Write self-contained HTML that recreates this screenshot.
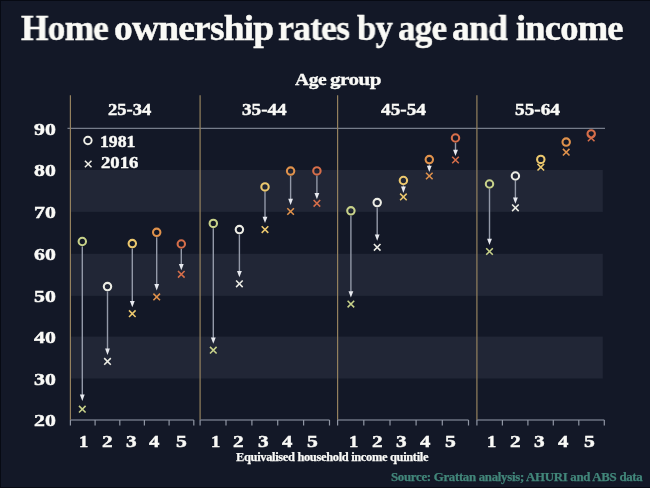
<!DOCTYPE html>
<html><head><meta charset="utf-8"><style>
html,body{margin:0;padding:0;width:650px;height:488px;overflow:hidden;background:#131827;}
#c{position:relative;width:650px;height:488px;background:#131827;}
svg{position:absolute;left:0;top:0;}
.t{position:absolute;white-space:nowrap;font-family:"Liberation Serif",serif;font-weight:bold;transform-origin:0 0;will-change:transform;}
</style></head><body><div id="c">
<svg width="650" height="488" viewBox="0 0 650 488">
<rect x="0" y="0" width="650" height="1" fill="#070a13"/><rect x="0" y="0" width="1" height="488" fill="#070a13"/><rect x="0" y="487" width="650" height="1" fill="#080b14"/>
<rect x="70.4" y="170.0" width="532.4" height="41.9" fill="#212636"/>
<rect x="70.4" y="253.8" width="532.4" height="42.1" fill="#212636"/>
<rect x="70.4" y="336.6" width="532.4" height="41.9" fill="#212636"/>
<line x1="67.5" y1="128.4" x2="605" y2="128.4" stroke="#767c8a" stroke-width="1.3"/>
<line x1="70.4" y1="95.3" x2="70.4" y2="420" stroke="#94815e" stroke-width="1.2"/>
<line x1="200.1" y1="95.3" x2="200.1" y2="420" stroke="#94815e" stroke-width="1.2"/>
<line x1="337.6" y1="95.3" x2="337.6" y2="420" stroke="#94815e" stroke-width="1.2"/>
<line x1="476.9" y1="95.3" x2="476.9" y2="420" stroke="#94815e" stroke-width="1.2"/>
<line x1="70.4" y1="420" x2="193.8" y2="420" stroke="#6c7282" stroke-width="1.4"/>
<line x1="70.4" y1="420" x2="70.4" y2="425.5" stroke="#9096a4" stroke-width="1.2"/>
<line x1="95.1" y1="420" x2="95.1" y2="425.5" stroke="#9096a4" stroke-width="1.2"/>
<line x1="119.8" y1="420" x2="119.8" y2="425.5" stroke="#9096a4" stroke-width="1.2"/>
<line x1="144.4" y1="420" x2="144.4" y2="425.5" stroke="#9096a4" stroke-width="1.2"/>
<line x1="169.1" y1="420" x2="169.1" y2="425.5" stroke="#9096a4" stroke-width="1.2"/>
<line x1="193.8" y1="420" x2="193.8" y2="425.5" stroke="#9096a4" stroke-width="1.2"/>
<line x1="200.1" y1="420" x2="329.5" y2="420" stroke="#6c7282" stroke-width="1.4"/>
<line x1="200.1" y1="420" x2="200.1" y2="425.5" stroke="#9096a4" stroke-width="1.2"/>
<line x1="226.0" y1="420" x2="226.0" y2="425.5" stroke="#9096a4" stroke-width="1.2"/>
<line x1="251.9" y1="420" x2="251.9" y2="425.5" stroke="#9096a4" stroke-width="1.2"/>
<line x1="277.7" y1="420" x2="277.7" y2="425.5" stroke="#9096a4" stroke-width="1.2"/>
<line x1="303.6" y1="420" x2="303.6" y2="425.5" stroke="#9096a4" stroke-width="1.2"/>
<line x1="329.5" y1="420" x2="329.5" y2="425.5" stroke="#9096a4" stroke-width="1.2"/>
<line x1="337.6" y1="420" x2="468.5" y2="420" stroke="#6c7282" stroke-width="1.4"/>
<line x1="337.6" y1="420" x2="337.6" y2="425.5" stroke="#9096a4" stroke-width="1.2"/>
<line x1="363.8" y1="420" x2="363.8" y2="425.5" stroke="#9096a4" stroke-width="1.2"/>
<line x1="390.0" y1="420" x2="390.0" y2="425.5" stroke="#9096a4" stroke-width="1.2"/>
<line x1="416.1" y1="420" x2="416.1" y2="425.5" stroke="#9096a4" stroke-width="1.2"/>
<line x1="442.3" y1="420" x2="442.3" y2="425.5" stroke="#9096a4" stroke-width="1.2"/>
<line x1="468.5" y1="420" x2="468.5" y2="425.5" stroke="#9096a4" stroke-width="1.2"/>
<line x1="476.9" y1="420" x2="604.3" y2="420" stroke="#6c7282" stroke-width="1.4"/>
<line x1="476.9" y1="420" x2="476.9" y2="425.5" stroke="#9096a4" stroke-width="1.2"/>
<line x1="502.4" y1="420" x2="502.4" y2="425.5" stroke="#9096a4" stroke-width="1.2"/>
<line x1="527.9" y1="420" x2="527.9" y2="425.5" stroke="#9096a4" stroke-width="1.2"/>
<line x1="553.3" y1="420" x2="553.3" y2="425.5" stroke="#9096a4" stroke-width="1.2"/>
<line x1="578.8" y1="420" x2="578.8" y2="425.5" stroke="#9096a4" stroke-width="1.2"/>
<line x1="604.3" y1="420" x2="604.3" y2="425.5" stroke="#9096a4" stroke-width="1.2"/>
<line x1="82.3" y1="246.4" x2="82.3" y2="395.1" stroke="#9399a8" stroke-width="1.4"/>
<path d="M79.90,394.60 L84.70,394.60 L82.3,400.9 Z" fill="#e8eaf0"/>
<circle cx="82.3" cy="241.5" r="3.7" fill="none" stroke="#c8d28a" stroke-width="2.1"/>
<path d="M79.0,405.9 L85.6,412.5 M79.0,412.5 L85.6,405.9" stroke="#c8d28a" stroke-width="1.55"/>
<line x1="107.5" y1="291.5" x2="107.5" y2="349.1" stroke="#9399a8" stroke-width="1.4"/>
<path d="M105.10,348.60 L109.90,348.60 L107.5,354.9 Z" fill="#e8eaf0"/>
<circle cx="107.5" cy="286.6" r="3.7" fill="none" stroke="#ecece4" stroke-width="2.1"/>
<path d="M104.2,358.1 L110.8,364.7 M104.2,364.7 L110.8,358.1" stroke="#ecece4" stroke-width="1.55"/>
<line x1="132.3" y1="248.5" x2="132.3" y2="301.4" stroke="#9399a8" stroke-width="1.4"/>
<path d="M129.90,300.90 L134.70,300.90 L132.3,307.2 Z" fill="#e8eaf0"/>
<circle cx="132.3" cy="243.6" r="3.7" fill="none" stroke="#ecc86e" stroke-width="2.1"/>
<path d="M129.0,310.4 L135.6,317.0 M129.0,317.0 L135.6,310.4" stroke="#ecc86e" stroke-width="1.55"/>
<line x1="156.7" y1="237.2" x2="156.7" y2="284.6" stroke="#9399a8" stroke-width="1.4"/>
<path d="M154.30,284.10 L159.10,284.10 L156.7,290.4 Z" fill="#e8eaf0"/>
<circle cx="156.7" cy="232.3" r="3.7" fill="none" stroke="#e0924c" stroke-width="2.1"/>
<path d="M153.4,293.6 L160.0,300.2 M153.4,300.2 L160.0,293.6" stroke="#e0924c" stroke-width="1.55"/>
<line x1="181.3" y1="248.9" x2="181.3" y2="264.5" stroke="#9399a8" stroke-width="1.4"/>
<path d="M178.90,264.00 L183.70,264.00 L181.3,270.3 Z" fill="#e8eaf0"/>
<circle cx="181.3" cy="244.0" r="3.7" fill="none" stroke="#d66e4a" stroke-width="2.1"/>
<path d="M178.0,271.0 L184.6,277.6 M178.0,277.6 L184.6,271.0" stroke="#d66e4a" stroke-width="1.55"/>
<line x1="213.3" y1="228.3" x2="213.3" y2="337.9" stroke="#9399a8" stroke-width="1.4"/>
<path d="M210.90,337.40 L215.70,337.40 L213.3,343.7 Z" fill="#e8eaf0"/>
<circle cx="213.3" cy="223.4" r="3.7" fill="none" stroke="#c8d28a" stroke-width="2.1"/>
<path d="M210.0,346.9 L216.6,353.5 M210.0,353.5 L216.6,346.9" stroke="#c8d28a" stroke-width="1.55"/>
<line x1="239.4" y1="234.5" x2="239.4" y2="271.5" stroke="#9399a8" stroke-width="1.4"/>
<path d="M237.00,271.00 L241.80,271.00 L239.4,277.3 Z" fill="#e8eaf0"/>
<circle cx="239.4" cy="229.6" r="3.7" fill="none" stroke="#ecece4" stroke-width="2.1"/>
<path d="M236.1,280.5 L242.7,287.1 M236.1,287.1 L242.7,280.5" stroke="#ecece4" stroke-width="1.55"/>
<line x1="265.0" y1="191.8" x2="265.0" y2="217.3" stroke="#9399a8" stroke-width="1.4"/>
<path d="M262.60,216.80 L267.40,216.80 L265.0,223.1 Z" fill="#e8eaf0"/>
<circle cx="265.0" cy="186.9" r="3.7" fill="none" stroke="#ecc86e" stroke-width="2.1"/>
<path d="M261.7,226.3 L268.3,232.9 M261.7,232.9 L268.3,226.3" stroke="#ecc86e" stroke-width="1.55"/>
<line x1="290.6" y1="176.0" x2="290.6" y2="199.2" stroke="#9399a8" stroke-width="1.4"/>
<path d="M288.20,198.70 L293.00,198.70 L290.6,205.0 Z" fill="#e8eaf0"/>
<circle cx="290.6" cy="171.1" r="3.7" fill="none" stroke="#e0924c" stroke-width="2.1"/>
<path d="M287.3,208.2 L293.9,214.8 M287.3,214.8 L293.9,208.2" stroke="#e0924c" stroke-width="1.55"/>
<line x1="316.9" y1="175.8" x2="316.9" y2="193.5" stroke="#9399a8" stroke-width="1.4"/>
<path d="M314.50,193.00 L319.30,193.00 L316.9,199.3 Z" fill="#e8eaf0"/>
<circle cx="316.9" cy="170.9" r="3.7" fill="none" stroke="#d66e4a" stroke-width="2.1"/>
<path d="M313.6,200.0 L320.2,206.6 M313.6,206.6 L320.2,200.0" stroke="#d66e4a" stroke-width="1.55"/>
<line x1="350.9" y1="215.7" x2="350.9" y2="291.8" stroke="#9399a8" stroke-width="1.4"/>
<path d="M348.50,291.30 L353.30,291.30 L350.9,297.6 Z" fill="#e8eaf0"/>
<circle cx="350.9" cy="210.8" r="3.7" fill="none" stroke="#c8d28a" stroke-width="2.1"/>
<path d="M347.6,300.8 L354.2,307.4 M347.6,307.4 L354.2,300.8" stroke="#c8d28a" stroke-width="1.55"/>
<line x1="377.2" y1="207.5" x2="377.2" y2="235.0" stroke="#9399a8" stroke-width="1.4"/>
<path d="M374.80,234.50 L379.60,234.50 L377.2,240.8 Z" fill="#e8eaf0"/>
<circle cx="377.2" cy="202.6" r="3.7" fill="none" stroke="#ecece4" stroke-width="2.1"/>
<path d="M373.9,244.0 L380.5,250.6 M373.9,250.6 L380.5,244.0" stroke="#ecece4" stroke-width="1.55"/>
<line x1="403.4" y1="185.4" x2="403.4" y2="187.1" stroke="#9399a8" stroke-width="1.4"/>
<path d="M401.00,186.60 L405.80,186.60 L403.4,192.9 Z" fill="#e8eaf0"/>
<circle cx="403.4" cy="180.5" r="3.7" fill="none" stroke="#ecc86e" stroke-width="2.1"/>
<path d="M400.1,193.6 L406.7,200.2 M400.1,200.2 L406.7,193.6" stroke="#ecc86e" stroke-width="1.55"/>
<line x1="429.3" y1="164.5" x2="429.3" y2="166.2" stroke="#9399a8" stroke-width="1.4"/>
<path d="M426.90,165.70 L431.70,165.70 L429.3,172.0 Z" fill="#e8eaf0"/>
<circle cx="429.3" cy="159.6" r="3.7" fill="none" stroke="#e0924c" stroke-width="2.1"/>
<path d="M426.0,172.7 L432.6,179.3 M426.0,179.3 L432.6,172.7" stroke="#e0924c" stroke-width="1.55"/>
<line x1="455.5" y1="142.9" x2="455.5" y2="150.2" stroke="#9399a8" stroke-width="1.4"/>
<path d="M453.10,149.70 L457.90,149.70 L455.5,156.0 Z" fill="#e8eaf0"/>
<circle cx="455.5" cy="138.0" r="3.7" fill="none" stroke="#d66e4a" stroke-width="2.1"/>
<path d="M452.2,156.7 L458.8,163.3 M452.2,163.3 L458.8,156.7" stroke="#d66e4a" stroke-width="1.55"/>
<line x1="489.5" y1="188.9" x2="489.5" y2="239.2" stroke="#9399a8" stroke-width="1.4"/>
<path d="M487.10,238.70 L491.90,238.70 L489.5,245.0 Z" fill="#e8eaf0"/>
<circle cx="489.5" cy="184.0" r="3.7" fill="none" stroke="#c8d28a" stroke-width="2.1"/>
<path d="M486.2,248.2 L492.8,254.8 M486.2,254.8 L492.8,248.2" stroke="#c8d28a" stroke-width="1.55"/>
<line x1="515.4" y1="180.9" x2="515.4" y2="198.0" stroke="#9399a8" stroke-width="1.4"/>
<path d="M513.00,197.50 L517.80,197.50 L515.4,203.8 Z" fill="#e8eaf0"/>
<circle cx="515.4" cy="176.0" r="3.7" fill="none" stroke="#ecece4" stroke-width="2.1"/>
<path d="M512.1,204.5 L518.7,211.1 M512.1,211.1 L518.7,204.5" stroke="#ecece4" stroke-width="1.55"/>
<circle cx="540.8" cy="159.4" r="3.7" fill="none" stroke="#ecc86e" stroke-width="2.1"/>
<path d="M537.5,163.9 L544.1,170.5 M537.5,170.5 L544.1,163.9" stroke="#ecc86e" stroke-width="1.55"/>
<circle cx="566.2" cy="142.1" r="3.7" fill="none" stroke="#e0924c" stroke-width="2.1"/>
<path d="M562.9,148.9 L569.5,155.5 M562.9,155.5 L569.5,148.9" stroke="#e0924c" stroke-width="1.55"/>
<circle cx="591.2" cy="133.9" r="3.7" fill="none" stroke="#d66e4a" stroke-width="2.1"/>
<path d="M587.9,134.7 L594.5,141.3 M587.9,141.3 L594.5,134.7" stroke="#d66e4a" stroke-width="1.55"/>
<circle cx="87.9" cy="140.5" r="3.75" fill="none" stroke="#eeeee6" stroke-width="1.9"/>
<path d="M84.9,160.7 L91.5,167.3 M84.9,167.3 L91.5,160.7" stroke="#eeeee6" stroke-width="1.5"/>
</svg>
<div class="t" style="left:20.70px;top:9.85px;font-size:36px;line-height:36px;color:#fafaf6;-webkit-text-stroke:0.45px #fafaf6;letter-spacing:-0.8px;transform:scaleX(0.9809)">Home</div>
<div class="t" style="left:113.86px;top:9.85px;font-size:36px;line-height:36px;color:#fafaf6;-webkit-text-stroke:0.45px #fafaf6;letter-spacing:-0.8px;transform:scaleX(1.0424)">ownership</div>
<div class="t" style="left:278.21px;top:9.85px;font-size:36px;line-height:36px;color:#fafaf6;-webkit-text-stroke:0.45px #fafaf6;letter-spacing:-0.8px;transform:scaleX(0.9901)">rates</div>
<div class="t" style="left:356.60px;top:9.85px;font-size:36px;line-height:36px;color:#fafaf6;-webkit-text-stroke:0.45px #fafaf6;letter-spacing:-0.8px;transform:scaleX(0.9649)">by</div>
<div class="t" style="left:397.53px;top:9.85px;font-size:36px;line-height:36px;color:#fafaf6;-webkit-text-stroke:0.45px #fafaf6;letter-spacing:-0.8px;transform:scaleX(0.9735)">age</div>
<div class="t" style="left:452.11px;top:9.85px;font-size:36px;line-height:36px;color:#fafaf6;-webkit-text-stroke:0.45px #fafaf6;letter-spacing:-0.8px;transform:scaleX(0.9893)">and</div>
<div class="t" style="left:515.70px;top:9.85px;font-size:36px;line-height:36px;color:#fafaf6;-webkit-text-stroke:0.45px #fafaf6;letter-spacing:-0.8px;transform:scaleX(1.0152)">income</div>
<div class="t" style="left:295.00px;top:70.64px;font-size:17.5px;line-height:17.5px;color:#fafaf7;-webkit-text-stroke:0.35px #fafaf7;letter-spacing:-0.4px;transform:scaleX(1.1143)">Age</div>
<div class="t" style="left:329.60px;top:70.64px;font-size:17.5px;line-height:17.5px;color:#fafaf7;-webkit-text-stroke:0.35px #fafaf7;letter-spacing:-0.4px;transform:scaleX(1.2000)">group</div>
<div class="t" style="left:108.00px;top:100.86px;font-size:17px;line-height:17px;color:#fafaf7;-webkit-text-stroke:0.45px #fafaf7;letter-spacing:0px;transform:scaleX(1.0900)">25-34</div>
<div class="t" style="left:242.20px;top:100.86px;font-size:17px;line-height:17px;color:#fafaf7;-webkit-text-stroke:0.45px #fafaf7;letter-spacing:0px;transform:scaleX(1.1250)">35-44</div>
<div class="t" style="left:380.50px;top:100.86px;font-size:17px;line-height:17px;color:#fafaf7;-webkit-text-stroke:0.45px #fafaf7;letter-spacing:0px;transform:scaleX(1.1325)">45-54</div>
<div class="t" style="left:514.50px;top:100.86px;font-size:17px;line-height:17px;color:#fafaf7;-webkit-text-stroke:0.45px #fafaf7;letter-spacing:0px;transform:scaleX(1.1325)">55-64</div>
<div class="t" style="left:34.41px;top:120.69px;font-size:17.2px;line-height:17.2px;color:#fafaf7;-webkit-text-stroke:0.45px #fafaf7;letter-spacing:0px;transform:scaleX(1.2700)">90</div>
<div class="t" style="left:34.41px;top:162.29px;font-size:17.2px;line-height:17.2px;color:#fafaf7;-webkit-text-stroke:0.45px #fafaf7;letter-spacing:0px;transform:scaleX(1.2700)">80</div>
<div class="t" style="left:34.41px;top:204.19px;font-size:17.2px;line-height:17.2px;color:#fafaf7;-webkit-text-stroke:0.45px #fafaf7;letter-spacing:0px;transform:scaleX(1.2700)">70</div>
<div class="t" style="left:34.41px;top:246.09px;font-size:17.2px;line-height:17.2px;color:#fafaf7;-webkit-text-stroke:0.45px #fafaf7;letter-spacing:0px;transform:scaleX(1.2700)">60</div>
<div class="t" style="left:34.41px;top:288.19px;font-size:17.2px;line-height:17.2px;color:#fafaf7;-webkit-text-stroke:0.45px #fafaf7;letter-spacing:0px;transform:scaleX(1.2700)">50</div>
<div class="t" style="left:34.41px;top:328.90px;font-size:17.2px;line-height:17.2px;color:#fafaf7;-webkit-text-stroke:0.45px #fafaf7;letter-spacing:0px;transform:scaleX(1.2700)">40</div>
<div class="t" style="left:34.41px;top:370.80px;font-size:17.2px;line-height:17.2px;color:#fafaf7;-webkit-text-stroke:0.45px #fafaf7;letter-spacing:0px;transform:scaleX(1.2700)">30</div>
<div class="t" style="left:34.41px;top:412.30px;font-size:17.2px;line-height:17.2px;color:#fafaf7;-webkit-text-stroke:0.45px #fafaf7;letter-spacing:0px;transform:scaleX(1.2700)">20</div>
<div class="t" style="left:100.36px;top:132.96px;font-size:17px;line-height:17px;color:#fafaf7;-webkit-text-stroke:0.45px #fafaf7;letter-spacing:0px;transform:scaleX(1.0424)">1981</div>
<div class="t" style="left:100.60px;top:153.96px;font-size:17px;line-height:17px;color:#fafaf7;-webkit-text-stroke:0.45px #fafaf7;letter-spacing:0px;transform:scaleX(1.1000)">2016</div>
<div class="t" style="left:78.91px;top:433.06px;font-size:17px;line-height:17px;color:#fafaf7;-webkit-text-stroke:0.45px #fafaf7;letter-spacing:0px;transform:scaleX(1.0857)">1</div>
<div class="t" style="left:101.50px;top:433.06px;font-size:17px;line-height:17px;color:#fafaf7;-webkit-text-stroke:0.45px #fafaf7;letter-spacing:0px;transform:scaleX(1.2500)">2</div>
<div class="t" style="left:126.30px;top:433.06px;font-size:17px;line-height:17px;color:#fafaf7;-webkit-text-stroke:0.45px #fafaf7;letter-spacing:0px;transform:scaleX(1.2500)">3</div>
<div class="t" style="left:149.30px;top:433.06px;font-size:17px;line-height:17px;color:#fafaf7;-webkit-text-stroke:0.45px #fafaf7;letter-spacing:0px;transform:scaleX(1.2222)">4</div>
<div class="t" style="left:175.50px;top:433.06px;font-size:17px;line-height:17px;color:#fafaf7;-webkit-text-stroke:0.45px #fafaf7;letter-spacing:0px;transform:scaleX(1.2750)">5</div>
<div class="t" style="left:211.31px;top:433.06px;font-size:17px;line-height:17px;color:#fafaf7;-webkit-text-stroke:0.45px #fafaf7;letter-spacing:0px;transform:scaleX(1.0857)">1</div>
<div class="t" style="left:233.00px;top:433.06px;font-size:17px;line-height:17px;color:#fafaf7;-webkit-text-stroke:0.45px #fafaf7;letter-spacing:0px;transform:scaleX(1.2500)">2</div>
<div class="t" style="left:258.00px;top:433.06px;font-size:17px;line-height:17px;color:#fafaf7;-webkit-text-stroke:0.45px #fafaf7;letter-spacing:0px;transform:scaleX(1.2500)">3</div>
<div class="t" style="left:281.50px;top:433.06px;font-size:17px;line-height:17px;color:#fafaf7;-webkit-text-stroke:0.45px #fafaf7;letter-spacing:0px;transform:scaleX(1.2222)">4</div>
<div class="t" style="left:306.90px;top:433.06px;font-size:17px;line-height:17px;color:#fafaf7;-webkit-text-stroke:0.45px #fafaf7;letter-spacing:0px;transform:scaleX(1.2750)">5</div>
<div class="t" style="left:349.41px;top:433.06px;font-size:17px;line-height:17px;color:#fafaf7;-webkit-text-stroke:0.45px #fafaf7;letter-spacing:0px;transform:scaleX(1.0857)">1</div>
<div class="t" style="left:371.70px;top:433.06px;font-size:17px;line-height:17px;color:#fafaf7;-webkit-text-stroke:0.45px #fafaf7;letter-spacing:0px;transform:scaleX(1.2500)">2</div>
<div class="t" style="left:396.00px;top:433.06px;font-size:17px;line-height:17px;color:#fafaf7;-webkit-text-stroke:0.45px #fafaf7;letter-spacing:0px;transform:scaleX(1.2500)">3</div>
<div class="t" style="left:419.50px;top:433.06px;font-size:17px;line-height:17px;color:#fafaf7;-webkit-text-stroke:0.45px #fafaf7;letter-spacing:0px;transform:scaleX(1.2222)">4</div>
<div class="t" style="left:445.10px;top:433.06px;font-size:17px;line-height:17px;color:#fafaf7;-webkit-text-stroke:0.45px #fafaf7;letter-spacing:0px;transform:scaleX(1.2750)">5</div>
<div class="t" style="left:487.31px;top:433.06px;font-size:17px;line-height:17px;color:#fafaf7;-webkit-text-stroke:0.45px #fafaf7;letter-spacing:0px;transform:scaleX(1.0857)">1</div>
<div class="t" style="left:509.60px;top:433.06px;font-size:17px;line-height:17px;color:#fafaf7;-webkit-text-stroke:0.45px #fafaf7;letter-spacing:0px;transform:scaleX(1.2500)">2</div>
<div class="t" style="left:534.40px;top:433.06px;font-size:17px;line-height:17px;color:#fafaf7;-webkit-text-stroke:0.45px #fafaf7;letter-spacing:0px;transform:scaleX(1.2500)">3</div>
<div class="t" style="left:558.00px;top:433.06px;font-size:17px;line-height:17px;color:#fafaf7;-webkit-text-stroke:0.45px #fafaf7;letter-spacing:0px;transform:scaleX(1.2222)">4</div>
<div class="t" style="left:584.10px;top:433.06px;font-size:17px;line-height:17px;color:#fafaf7;-webkit-text-stroke:0.45px #fafaf7;letter-spacing:0px;transform:scaleX(1.2750)">5</div>
<div class="t" style="left:236.40px;top:451.67px;font-size:11.5px;line-height:11.5px;color:#fafaf7;-webkit-text-stroke:0.25px #fafaf7;letter-spacing:-0.3px;transform:scaleX(1.0809)">Equivalised household income quintile</div>
<div class="t" style="left:390.80px;top:470.83px;font-size:12.5px;line-height:12.5px;color:#42867a;-webkit-text-stroke:0.25px #42867a;letter-spacing:-0.3px;transform:scaleX(1.0295)">Source: Grattan analysis; AHURI and ABS data</div>
</div></body></html>
